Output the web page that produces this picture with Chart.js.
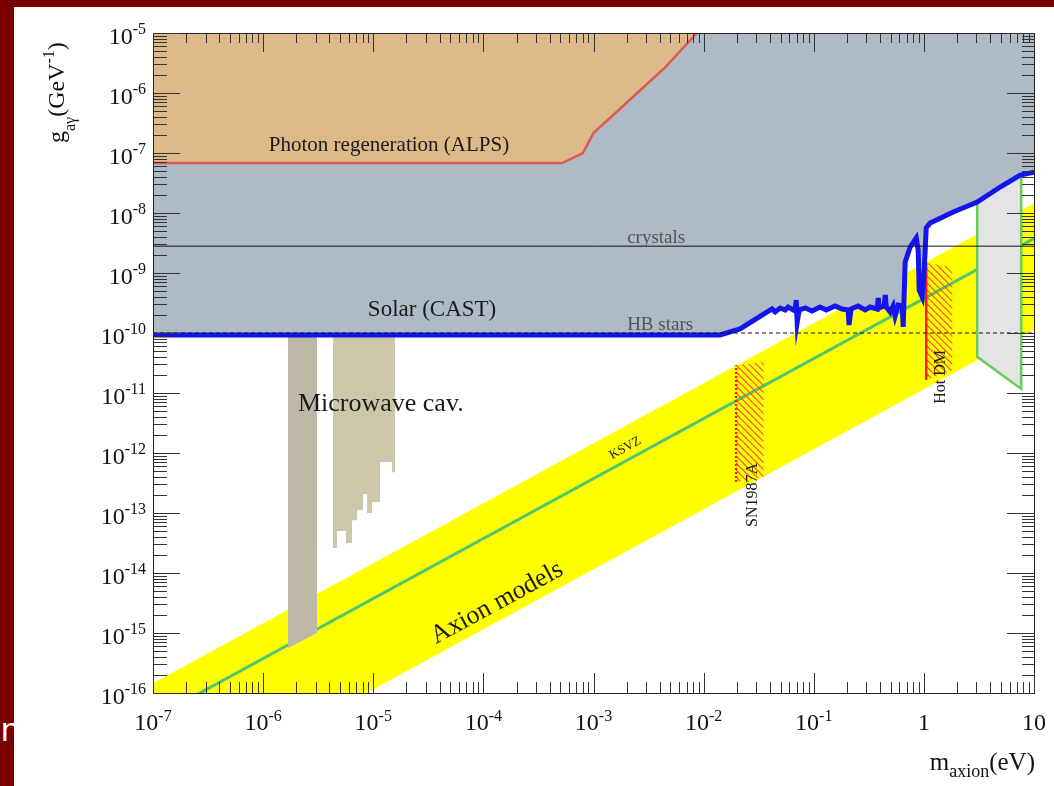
<!DOCTYPE html>
<html>
<head>
<meta charset="utf-8">
<script src="https://cdn.jsdelivr.net/npm/chart.js@4.4.0/dist/chart.umd.min.js"></script>
<style>
html, body { margin: 0; padding: 0; background: #7a0000; width: 1054px; height: 786px; overflow: hidden; }
#stray { position: absolute; left: 1px; top: 712px; color: #fff; font: 34px "Liberation Sans", sans-serif; line-height: 1; }
#panel { position: absolute; left: 14px; top: 7px; width: 1040px; height: 779px; background: #fff; }
</style>
</head>
<body>
<div id="stray">n</div>
<div id="panel"><canvas id="c" width="1040" height="779"></canvas></div>
<script>
// axis ranges
const massMin = 1e-7, massMax = 10;
const gMin = 1e-16, gMax = 1e-5;

// tick labels
const xTickValues = [1e-7, 1e-6, 1e-5, 1e-4, 1e-3, 1e-2, 1e-1, 1, 10];
const xTickBase = ['10', '10', '10', '10', '10', '10', '10', '1', '10'];
const xTickExp = ['-7', '-6', '-5', '-4', '-3', '-2', '-1', '', ''];
const yTickExp = [-5, -6, -7, -8, -9, -10, -11, -12, -13, -14, -15, -16];

// Photon regeneration (ALPS)
const alpsMass = [1e-7, 5.2e-4, 8e-4, 1e-3, 4.5e-3, 8.7e-3];
const alpsG = [6.8e-8, 6.8e-8, 1e-7, 2.15e-7, 2.7e-6, 1e-5];

// Solar (CAST) limit
const castMass = [1e-7, 0.0141, 0.0214, 0.0378, 0.0419, 0.0446, 0.0495, 0.055, 0.0585, 0.0678,
  0.0693, 0.0707, 0.0737, 0.0836, 0.0966, 0.114, 0.130, 0.156, 0.181, 0.205,
  0.209, 0.218, 0.253, 0.293, 0.325, 0.377, 0.385, 0.393, 0.436, 0.446,
  0.456, 0.494, 0.526, 0.548, 0.585, 0.635, 0.649, 0.676, 0.751, 0.852,
  0.888, 0.906, 0.966, 1.007, 1.05, 1.14, 1.85, 3.05, 4.93, 7.5, 10];
const castG = [9.3e-11, 9.3e-11, 1.17e-10, 2.24e-10, 2.51e-10, 2.24e-10, 2.61e-10, 2.42e-10, 2.71e-10, 2.33e-10,
  3.55e-10, 1.52e-10, 2.42e-10, 2.61e-10, 2.33e-10, 2.71e-10, 2.42e-10, 2.82e-10, 2.51e-10, 2.42e-10,
  1.36e-10, 2.51e-10, 2.82e-10, 2.42e-10, 2.71e-10, 2.51e-10, 3.83e-10, 2.61e-10, 2.82e-10, 4.3e-10,
  2.71e-10, 2.24e-10, 2.82e-10, 1.92e-10, 2.93e-10, 2.82e-10, 1.26e-10, 1.52e-9, 2.71e-9, 3.83e-9,
  2.42e-9, 5.2e-10, 3.98e-10, 1.12e-9, 5.62e-9, 6.8e-9, 1.04e-8, 1.52e-8, 2.71e-8, 4.3e-8, 4.8e-8];

// Microwave cavities
const cav1Mass = [1.68e-6, 3.09e-6];
const cav1G = [5.6e-16, 1.0e-15];
const cav2Mass = [4.31e-6, 4.69e-6, 5.66e-6, 6.41e-6, 7.13e-6, 8.07e-6, 8.79e-6, 9.75e-6, 1.15e-5, 1.48e-5, 1.58e-5];
const cav2G = [2.61e-14, 5.0e-14, 3.16e-14, 7.6e-14, 1.12e-13, 2.07e-13, 1.0e-13, 1.52e-13, 7.1e-13, 4.8e-13, 4.8e-13];

// Axion models band + KSVZ
const bandMass = [1e-7, 10];
const bandUpper = [1.45e-16, 1.45e-8];
const bandLower = [1.15e-18, 1.15e-10];
const ksvzG = [3.75e-17, 3.75e-9];

// SN1987A and Hot DM
const snMass = [0.0197, 0.0197, 0.035, 0.035];
const snG = [3.3e-13, 2.9e-11, 3.3e-11, 4.0e-13];
const hotMass = [1.05, 1.05, 1.81, 1.81];
const hotG = [1.65e-11, 1.47e-9, 1.26e-9, 2.4e-11];

// grey box (telescope search)
const boxMass = [3.05, 3.05, 7.65, 7.65];
const boxG = [1.52e-8, 4.0e-11, 1.17e-11, 4.0e-8];

// horizontal limits
const flatMass = [1e-7, 10];
const crystalsG = [2.8e-9, 2.8e-9];
const hbG = [1e-10, 1e-10];

const zip = (xs, ys) => xs.map((v, i) => ({ x: v, y: ys[i] }));

const canvas = document.getElementById('c');
const ctx0 = canvas.getContext('2d');

function makeHatch() {
    const c = document.createElement('canvas');
    c.width = 7; c.height = 7;
    const g = c.getContext('2d');
    g.strokeStyle = '#ff4a24';
    g.lineWidth = 1.2;
    g.beginPath();
    g.moveTo(0, 0); g.lineTo(7, 7);
    g.moveTo(-1, 6); g.lineTo(1, 8);
    g.moveTo(6, -1); g.lineTo(8, 1);
    g.stroke();
    return ctx0.createPattern(c, 'repeat');
}
const hatch = makeHatch();

const serif = '"Liberation Serif", "Times New Roman", serif';

function drawRich(ctx, parts, x, y, align) {
    let w = 0;
    parts.forEach(p => {
        ctx.font = p.size + 'px ' + serif;
        p.w = ctx.measureText(p.t).width;
        w += p.w;
    });
    let cx = align === 'center' ? x - w / 2 : (align === 'right' ? x - w : x);
    parts.forEach(p => {
        ctx.font = p.size + 'px ' + serif;
        ctx.fillText(p.t, cx, y + (p.dy || 0));
        cx += p.w;
    });
}

const decorations = {
    id: 'decorations',
    afterDraw(chart) {
        const { ctx, chartArea: a } = chart;
        const x = chart.scales.x, y = chart.scales.y;
        ctx.save();
        ctx.textAlign = 'left';
        ctx.textBaseline = 'alphabetic';

        // text labels inside plot
        ctx.fillStyle = '#1a1a1a';
        ctx.font = '21px ' + serif;
        ctx.textAlign = 'center';
        ctx.fillText('Photon regeneration (ALPS)', x.getPixelForValue(1.39e-5), y.getPixelForValue(1.08e-7));
        ctx.font = '23px ' + serif;
        ctx.fillText('Solar (CAST)', x.getPixelForValue(3.42e-5), y.getPixelForValue(1.92e-10));
        ctx.textAlign = 'left';
        ctx.font = '26px ' + serif;
        ctx.fillText('Microwave cav.', x.getPixelForValue(2.07e-6), y.getPixelForValue(5.0e-12));
        ctx.fillStyle = '#555';
        ctx.font = '19px ' + serif;
        ctx.fillText('crystals', x.getPixelForValue(2.02e-3), y.getPixelForValue(3.16e-9));
        ctx.fillText('HB stars', x.getPixelForValue(2.02e-3), y.getPixelForValue(1.12e-10));

        // rotated labels along the axion band
        const ang = Math.atan2(y.getPixelForValue(ksvzG[1]) - y.getPixelForValue(ksvzG[0]),
                               x.getPixelForValue(bandMass[1]) - x.getPixelForValue(bandMass[0]));
        ctx.fillStyle = '#1a1a1a';
        ctx.textAlign = 'center';
        ctx.textBaseline = 'middle';
        const rot = (txt, m, g, a0, font) => {
            ctx.save();
            ctx.translate(x.getPixelForValue(m), y.getPixelForValue(g));
            ctx.rotate(a0);
            ctx.font = font;
            ctx.fillText(txt, 0, 0);
            ctx.restore();
        };
        rot('KSVZ', 1.94e-3, 1.21e-12, ang, '13px ' + serif);
        rot('Axion models', 1.33e-4, 3.16e-15, ang, '26px ' + serif);
        rot('SN1987A', 0.0282, 2.0e-13, -Math.PI / 2, '16px ' + serif);
        rot('Hot DM', 1.41, 1.85e-11, -Math.PI / 2, '16px ' + serif);
        ctx.textBaseline = 'alphabetic';
        ctx.textAlign = 'left';

        // frame
        ctx.strokeStyle = '#222';
        ctx.lineWidth = 1;
        ctx.strokeRect(a.left + 0.5, a.top + 0.5, a.right - a.left, a.bottom - a.top);

        const seg = (x1, y1, x2, y2) => { ctx.beginPath(); ctx.moveTo(x1, y1); ctx.lineTo(x2, y2); ctx.stroke(); };
        ctx.strokeStyle = '#333';

        // x ticks (bottom and top)
        for (let e = -7; e <= 1; e++) {
            for (let k = 1; k <= 9; k++) {
                const v = k * Math.pow(10, e);
                if (v > massMax * 1.0001) break;
                const px = Math.round(x.getPixelForValue(v)) + 0.5;
                const major = k === 1;
                seg(px, a.bottom, px, a.bottom - (major ? 20 : 11));
                seg(px, a.top, px, a.top + (major ? 19 : 10));
            }
        }
        // y ticks (left and right)
        for (let e = -16; e <= -5; e++) {
            for (let k = 1; k <= 9; k++) {
                const v = k * Math.pow(10, e);
                if (v > gMax * 1.0001) break;
                const py = Math.round(y.getPixelForValue(v)) + 0.5;
                const major = k === 1;
                seg(a.left, py, a.left + (major ? 27 : 14), py);
                seg(a.right, py, a.right - (major ? 27 : 12), py);
            }
        }

        // tick labels
        ctx.fillStyle = '#111';
        xTickValues.forEach((v, i) => {
            const parts = [{ t: xTickBase[i], size: 24 }];
            if (xTickExp[i]) parts.push({ t: xTickExp[i], size: 16, dy: -9 });
            drawRich(ctx, parts, x.getPixelForValue(v), a.bottom + 37, 'center');
        });
        yTickExp.forEach(e => {
            const py = y.getPixelForValue(Math.pow(10, e));
            drawRich(ctx, [{ t: '10', size: 24 }, { t: String(e), size: 16, dy: -10 }], a.left - 7, py + 11, 'right');
        });

        // axis titles
        drawRich(ctx, [{ t: 'm', size: 25 }, { t: 'axion', size: 18, dy: 7 }, { t: '(eV)', size: 25 }], a.right + 1, a.bottom + 77, 'right');
        ctx.save();
        ctx.translate(50, 136);
        ctx.rotate(-Math.PI / 2);
        drawRich(ctx, [{ t: 'g', size: 24 }, { t: 'a\u03b3', size: 16, dy: 11 }, { t: '(GeV', size: 24 }, { t: '-1', size: 16, dy: -10 }, { t: ')', size: 24 }], 0, 0, 'left');
        ctx.restore();

        ctx.restore();
    }
};

const datasets = [
    // 0: band lower edge (invisible)
    { data: zip(bandMass, bandLower), borderWidth: 0, fill: false, order: 100 },
    // 1: band upper edge, filled down to lower edge
    { data: zip(bandMass, bandUpper), borderWidth: 0, backgroundColor: '#ffff00', fill: '-1', order: 99 },
    // 2: KSVZ
    { data: zip(bandMass, ksvzG), borderColor: '#4fc668', borderWidth: 3, fill: false, order: 95 },
    // 3-4: microwave cavities
    { data: zip(cav1Mass, cav1G), borderWidth: 0, backgroundColor: '#bdb9a6', fill: 'end', order: 90 },
    { data: zip(cav2Mass, cav2G), borderWidth: 0, backgroundColor: '#cdc7aa', fill: 'end', stepped: 'before', order: 89 },
    // 5: grey box
    { data: zip(boxMass, boxG), borderColor: '#66cc5a', borderWidth: 2.5, backgroundColor: '#e4e4e4', fill: 'shape', order: 85 },
    // 6-7: hatched regions
    { data: zip(snMass, snG), borderWidth: 0, backgroundColor: hatch, fill: 'shape', order: 80 },
    { data: zip(hotMass, hotG), borderWidth: 0, backgroundColor: hatch, fill: 'shape', order: 79 },
    // 8-9: SN1987A dotted edge, Hot DM edge
    { data: zip(snMass.slice(0, 2), snG.slice(0, 2)), borderColor: '#ff1a1a', borderWidth: 2.5, borderDash: [2, 2], fill: false, order: 75 },
    { data: zip(hotMass.slice(0, 2), hotG.slice(0, 2)), borderColor: '#ff1a1a', borderWidth: 2.5, fill: false, order: 74 },
    // 10: CAST
    { data: zip(castMass, castG), borderColor: '#1414ee', borderWidth: 5, backgroundColor: '#aebbc7', fill: 'end', order: 60 },
    // 11: ALPS
    { data: zip(alpsMass, alpsG), borderColor: '#dc5a50', borderWidth: 2.5, backgroundColor: '#ddb98a', fill: 'end', order: 50 },
    // 12-13: crystals, HB stars
    { data: zip(flatMass, crystalsG), borderColor: '#111', borderWidth: 1, fill: false, order: 40 },
    { data: zip(flatMass, hbG), borderColor: '#111', borderWidth: 1.2, borderDash: [4, 3], fill: false, order: 39 }
];

new Chart(canvas, {
    type: 'line',
    data: { datasets: datasets },
    options: {
        responsive: false,
        animation: false,
        devicePixelRatio: 1,
        events: [],
        layout: { padding: { left: 139, top: 26, right: 20, bottom: 93 } },
        elements: { point: { radius: 0 }, line: { tension: 0 } },
        plugins: { legend: { display: false }, tooltip: { enabled: false } },
        scales: {
            x: { type: 'logarithmic', min: massMin, max: massMax, display: false },
            y: { type: 'logarithmic', min: gMin, max: gMax, display: false }
        }
    },
    plugins: [decorations]
});
</script>
</body>
</html>
